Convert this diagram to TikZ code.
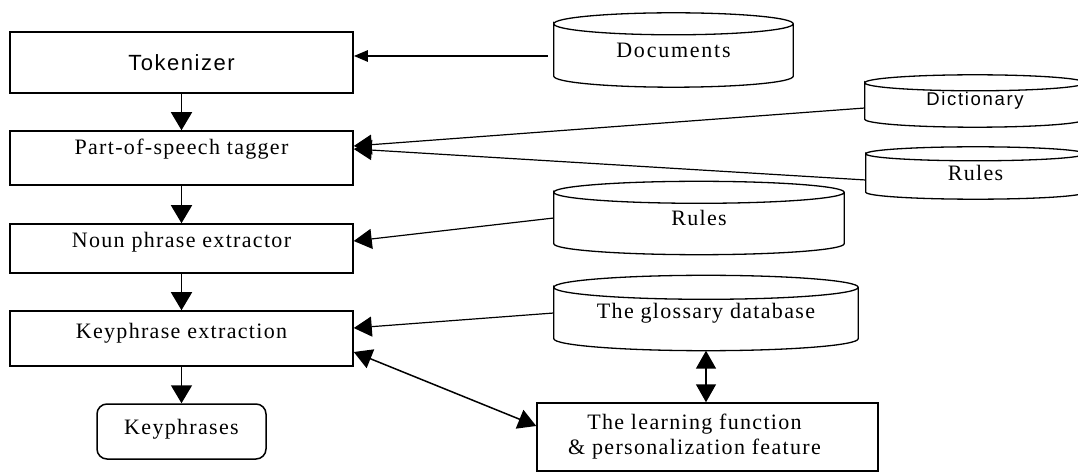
\documentclass[tikz,border=0pt]{standalone}
\usepackage{fontspec}
\setmainfont{Liberation Serif}[LetterSpace=6]
\newfontfamily\sanssp{Liberation Sans}[LetterSpace=7]
\usetikzlibrary{arrows.meta}
\usetikzlibrary{calc}

% database drum drawn round an (invisible) node #1, cap radius #2
\newcommand\drum[2]{%
 \draw[line width=1.3pt] let \p1=(#1.north west), \p2=(#1.south east), \n1={(\x2-\x1)/2} in
   (\x1,\y1-#2pt) arc[start angle=180,end angle=-180,x radius=\n1,y radius=#2pt]
   -- (\x1,\y2+#2pt) arc[start angle=180,end angle=360,x radius=\n1,y radius=#2pt]
   -- (\x2,\y1-#2pt);
}

\tikzset{
 box/.style={draw,line width=1.5pt,inner sep=0pt,minimum width=343pt},
 raised/.style={text height=15pt,text depth=#1},
 db/.style={inner sep=0pt},
 flow/.style={line width=1.5pt,-{Triangle[length=18pt,width=21pt]}},
 feed/.style={line width=1.2pt,-{Triangle[length=18pt,width=20pt]}},
 both/.style={line width=1.5pt,{Triangle[length=18pt,width=20pt]}-{Triangle[length=18pt,width=20pt]}}
}

\begin{document}
\begin{tikzpicture}[x=1pt,y=1pt,font=\fontsize{22}{25}\selectfont]
 \useasboundingbox (0,0) rectangle (1078,474);
 \clip (0,0) rectangle (1078,474);

 % processing chain
 \node[box,minimum height=61pt] (tok) at (181.5,411.5) {\sanssp Tokenizer};
 \node[box,minimum height=54pt,raised=21pt] (pos) at (181.5,316) {Part-of-speech tagger};
 \node[box,minimum height=49pt,raised=17pt] (noun) at (181.5,225.5) {Noun phrase extractor};
 \node[box,minimum height=55pt,raised=15pt] (key) at (181.5,135.5) {Keyphrase extraction};
 \node[box,minimum width=169pt,minimum height=55pt,raised=9pt,rounded corners=10pt] (kp) at (181.5,42.5) {Keyphrases};
 \node[box,minimum width=341pt,minimum height=68pt,align=center] (learn) at (707.5,37)
   {The learning function\hspace*{26pt}\\\& personalization feature\hspace*{26pt}};

 % data stores
 \node[db,minimum width=239pt,minimum height=74pt] (docs) at (673.5,424) {\addfontfeature{LetterSpace=8}Documents};
 \node[db,minimum width=220pt,minimum height=52pt] (dict) at (975,373) {\sanssp\fontsize{18.5}{22}\selectfont\addfontfeature{LetterSpace=9}Dictionary};
 \node[db,minimum width=219pt,minimum height=52pt] (rulesb) at (975.5,301) {Rules};
 \node[db,minimum width=290pt,minimum height=73pt] (rulesa) at (699,256) {Rules};
 \node[db,minimum width=304pt,minimum height=75pt] (gloss) at (706,161) {The glossary database};
 \drum{docs}{11}
 \drum{dict}{8}
 \drum{rulesb}{7}
 \drum{rulesa}{11}
 \drum{gloss}{12}

 % connectors
 \draw[flow] (tok) -- (pos);
 \draw[flow] (pos) -- (noun);
 \draw[flow] (noun) -- (key);
 \draw[flow] (key) -- (kp);
 \draw[line width=2.5pt,shorten <=6pt,-{Triangle[length=14pt,width=11pt]}] ([yshift=-6pt]docs.west) -- ([yshift=-6pt]docs.west -| tok.east);
 \draw[feed] ([yshift=-7pt]dict.west) -- ([yshift=12pt]pos.east);
 \draw[feed] ([yshift=-7pt]rulesb.west) -- ([yshift=9pt]pos.east);
 \draw[feed] (rulesa.west) -- ([yshift=7.5pt]noun.east);
 \draw[feed] (gloss.west) -- ([yshift=10.5pt]key.east);
 \draw[both] (gloss.south) -- (gloss.south |- learn.north);
 \draw[both] ([yshift=-13.5pt]key.east) -- ([yshift=11pt]learn.west);
\end{tikzpicture}
\end{document}
